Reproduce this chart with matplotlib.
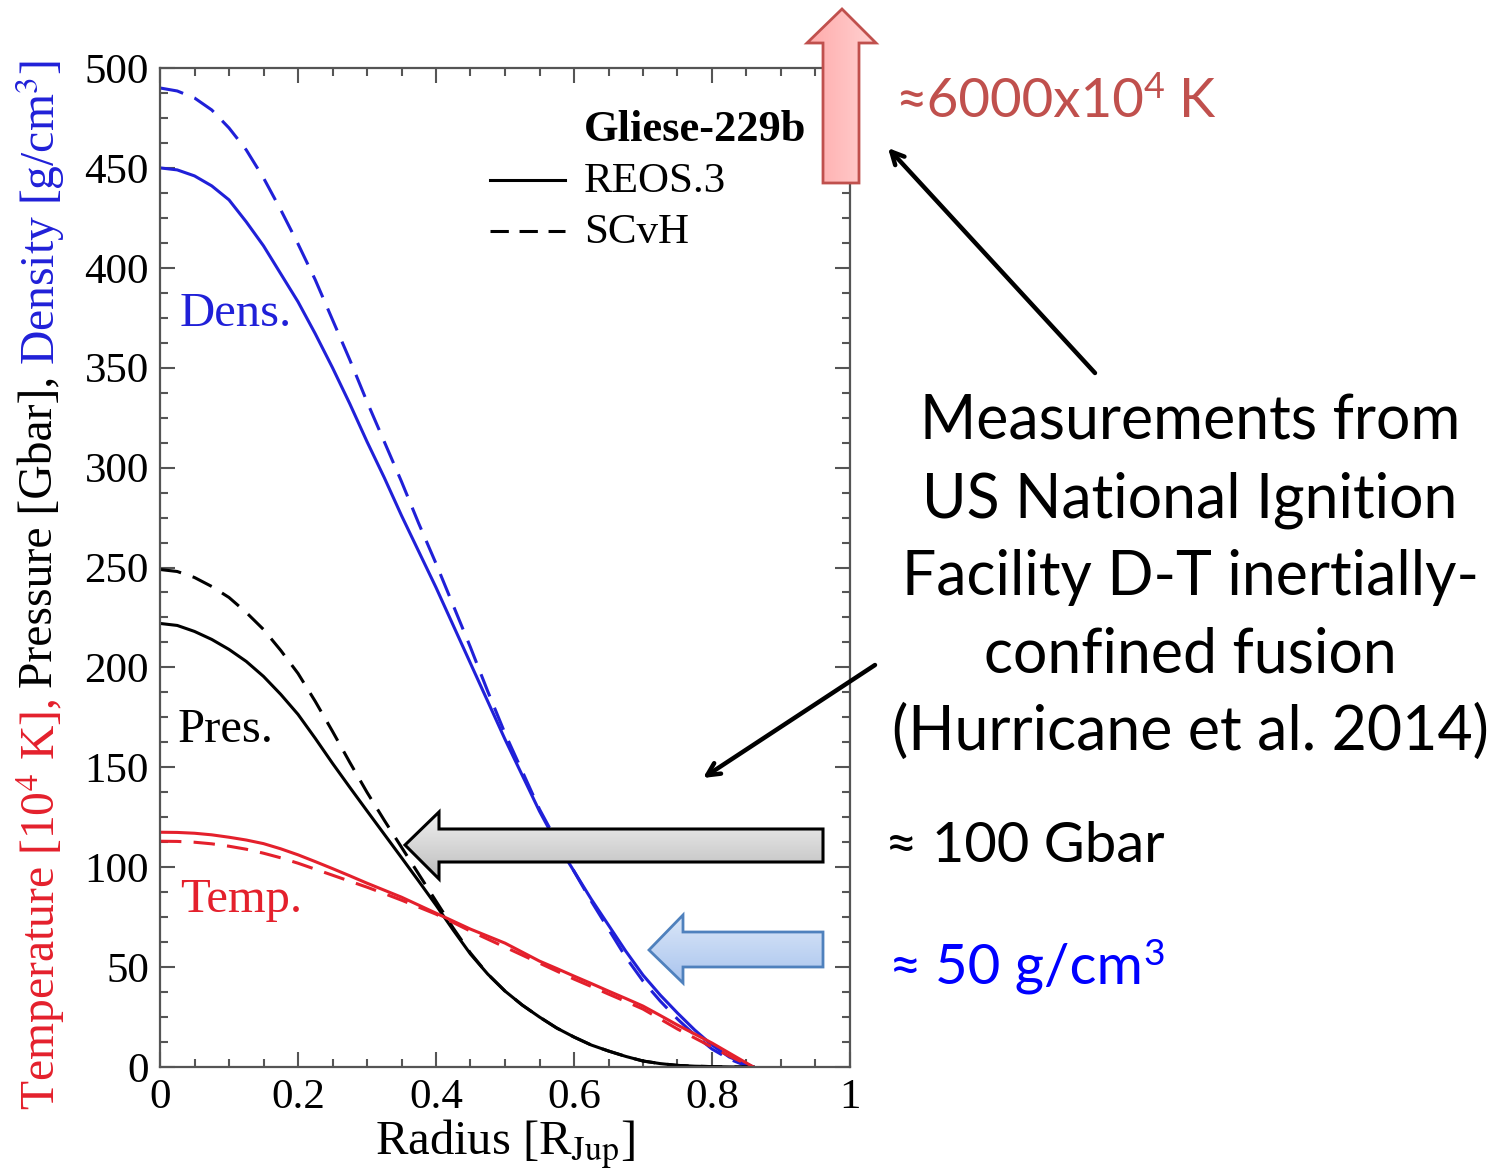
import matplotlib
matplotlib.use('Agg')
import matplotlib.pyplot as plt
import numpy as np
from matplotlib.patches import Polygon
from matplotlib.lines import Line2D
from matplotlib.colors import LinearSegmentedColormap
from matplotlib.ticker import MultipleLocator

# ---------------- data ----------------
radius = [0.0, 0.025, 0.05, 0.075, 0.10, 0.125, 0.15, 0.175, 0.20, 0.225,
          0.25, 0.275, 0.30, 0.325, 0.35, 0.375, 0.40, 0.425, 0.45, 0.475,
          0.50, 0.525, 0.55, 0.575, 0.60, 0.625, 0.65, 0.675, 0.70, 0.725,
          0.75, 0.775, 0.80, 0.825, 0.85, 0.86]
dens_reos = [450, 449, 446, 441, 434, 423, 411, 397, 383, 367,
             350, 332, 313, 295, 276, 258, 240, 221, 202, 183,
             164, 146, 128, 112, 98, 84, 71, 58, 46, 36,
             27, 18.5, 11, 5, 1.5, 0]
dens_scvh = [490, 488.5, 485, 479, 470, 459, 445, 429, 412, 394,
             374, 354, 333, 313, 293, 272, 252, 231, 210, 188,
             167, 148, 129, 113, 98, 83, 69, 55, 43, 33,
             24, 16, 9, 4, 0.5, 0]
pres_reos = [222, 221, 218, 214, 209, 203, 195.5, 186.5, 176.5, 164.5,
             152, 140, 128.2, 116.5, 104.8, 93, 81, 68.5, 56.5, 46.5,
             38, 31, 25, 19.5, 15, 11, 8, 5.3, 3, 1.7,
             0.8, 0.4, 0.2, 0.05, 0, 0]
pres_scvh = [249, 248, 245, 240.5, 235, 227.5, 219, 208.5, 197, 183,
             168, 152.5, 137.5, 123.5, 110, 96.5, 83, 69.5, 57, 46.5,
             38, 31, 25, 19.5, 15, 11, 8, 5.3, 3, 1.7,
             0.8, 0.4, 0.2, 0.05, 0, 0]
temp_reos = [117.5, 117.4, 117, 116.2, 115, 113.6, 111.8, 109.2, 106.2, 102.8,
             99.3, 95.7, 92, 88.5, 85, 81, 77, 73, 69, 65.5,
             62, 57.5, 53, 49.3, 45.5, 41.8, 38, 34.3, 30.5, 25.8,
             21, 16.5, 12, 7, 2, 0]
temp_scvh = [113, 112.9, 112.5, 111.7, 110.5, 109, 107, 104.7, 102, 99,
             96, 93, 90, 86.8, 83.5, 80, 76.5, 72.3, 68, 64,
             60, 56, 52, 48, 44, 40.3, 36.5, 32.8, 29, 24,
             19, 14.5, 10, 5.5, 1.5, 0]

xticks = [0, 0.2, 0.4, 0.6, 0.8, 1.0]
xticklabels = ['0', '0.2', '0.4', '0.6', '0.8', '1']
yticks = [0, 50, 100, 150, 200, 250, 300, 350, 400, 450, 500]
yticklabels = [str(v) for v in yticks]

# ---------------- style ----------------
plt.rcParams['font.family'] = ['Liberation Serif', 'DejaVu Serif']
plt.rcParams['mathtext.fontset'] = 'stix'

BLUE = '#2020d8'
RED = '#e4202c'
BLACK = '#000000'
SANS = ['Lato', 'DejaVu Sans']

W, H = 1503, 1169
fig = plt.figure(figsize=(W / 100, H / 100), dpi=100)
ax = fig.add_axes([160 / W, 1 - 1067 / H, 690 / W, 999 / H])

lw = 2.2
ax.plot(radius, dens_reos, color=BLUE, lw=lw)
ax.plot(radius, dens_scvh, color=BLUE, lw=lw, ls=(0, (7.8, 4.0)))
ax.plot(radius, pres_reos, color=BLACK, lw=lw)
ax.plot(radius, pres_scvh, color=BLACK, lw=lw, ls=(0, (7.0, 4.0)))
ax.plot(radius, temp_reos, color=RED, lw=lw)
ax.plot(radius, temp_scvh, color=RED, lw=lw, ls=(0, (7.0, 4.0)))

ax.set_xlim(0, 1)
ax.set_ylim(0, 500)
ax.set_xticks(xticks)
ax.set_xticklabels(xticklabels)
ax.set_yticks(yticks)
ax.set_yticklabels(yticklabels)
ax.xaxis.set_minor_locator(MultipleLocator(0.05))
ax.yaxis.set_minor_locator(MultipleLocator(12.5))
ax.tick_params(which='both', direction='in', top=True, right=True,
               color='#555555', width=1.5, labelsize=31)
ax.tick_params(which='major', length=11, pad=8)
ax.tick_params(which='minor', length=6)
for s in ax.spines.values():
    s.set_color('#555555')
    s.set_linewidth(1.6)

ax.set_xlabel(r'Radius [R$_{\rm Jup}$]', fontsize=35, labelpad=0)

# curve labels
ax.text(0.029, 377, 'Dens.', color=BLUE, fontsize=35, va='center', ha='left')
ax.text(0.026, 168.5, 'Pres.', color=BLACK, fontsize=35, va='center', ha='left')
ax.text(0.029, 83.5, 'Temp.', color=RED, fontsize=35, va='center', ha='left')

# legend (drawn manually, matching the reference layout)
ax.text(0.614, 0.938, 'Gliese-229b', transform=ax.transAxes, fontsize=32,
        fontweight='bold', va='center', ha='left')
ax.add_line(Line2D([0.478, 0.587], [0.888, 0.888], transform=ax.transAxes,
                   color='k', lw=2.2))
ax.add_line(Line2D([0.478, 0.587], [0.837, 0.837], transform=ax.transAxes,
                   color='k', lw=2.2, ls=(0, (6, 3.5))))
ax.text(0.614, 0.886, 'REOS.3', transform=ax.transAxes, fontsize=31,
        va='center', ha='left')
ax.text(0.614, 0.835, 'SCvH', transform=ax.transAxes, fontsize=31,
        va='center', ha='left')

# ---------------- overlay in pixel coordinates ----------------
ov = fig.add_axes([0, 0, 1, 1], zorder=5)
ov.set_autoscale_on(False)
ov.set_xlim(0, W)
ov.set_ylim(H, 0)
ov.axis('off')
ov.patch.set_alpha(0)

renderer = fig.canvas.get_renderer()


def ext(t):
    return t.get_window_extent(renderer)


# multi-coloured y label, scaled so that it spans the reference height
ylab_parts = [(r'Temperature [10$^4$ K],', RED),
              ('Pressure [Gbar],', BLACK),
              (r'Density [g/cm$^3$]', BLUE)]
gap = 11


def draw_ylabel(fs):
    ts = []
    ytop = 1110
    for s, c in ylab_parts:
        t = ov.text(40, ytop, s, rotation=90, color=c, fontsize=fs,
                    ha='center', va='bottom')
        ytop -= ext(t).height + gap
        ts.append(t)
    return ts, 1110 - (ytop + gap)


ts, total = draw_ylabel(31)
for t in ts:
    t.remove()
draw_ylabel(31 * (1048 - 2 * gap) / (total - 2 * gap))


def block_arrow(pts, c1, c2, edge, elw, horizontal=False):
    p = Polygon(pts, closed=True, facecolor='none', edgecolor=edge,
                lw=elw, zorder=4, joinstyle='miter')
    ov.add_patch(p)
    xs = [q[0] for q in pts]
    ys = [q[1] for q in pts]
    g = np.linspace(0, 1, 256)
    img = g[None, :] if horizontal else g[:, None]
    cmap = LinearSegmentedColormap.from_list('g', [c1, c2])
    im = ov.imshow(img, extent=(min(xs), max(xs), max(ys), min(ys)),
                   cmap=cmap, aspect='auto', zorder=3, interpolation='bilinear')
    im.set_clip_path(p)


# red up arrow
block_arrow([(842, 9), (876, 43), (859, 43), (859, 183), (823, 183),
             (823, 43), (807, 43)], '#ffaaaa', '#ffd2d2', '#c0504d', 2.0,
            horizontal=True)
# grey left arrow
block_arrow([(405, 845), (439, 812), (439, 829), (823, 829), (823, 862),
             (439, 862), (439, 879)], '#f0f0f0', '#bdbdbd', '#000000', 2.2)
# blue left arrow
block_arrow([(649, 950), (683, 915), (683, 932), (823, 932), (823, 967),
             (683, 967), (683, 983)], '#dbe7f8', '#a9c4ee', '#4f81bd', 2.0)

# black pointer arrows
aprops = dict(arrowstyle='->,head_length=0.9,head_width=0.45', lw=3.2,
              color='k', shrinkA=0, shrinkB=0)
ov.annotate('', xy=(888, 148), xytext=(1095, 373), arrowprops=aprops)
ov.annotate('', xy=(703, 778), xytext=(875, 665), arrowprops=aprops)


# texts with a real superscript, fitted to the reference width
def space_w(fs):
    a = ov.text(0, 0, 'a a', fontsize=fs, family=SANS)
    b = ov.text(0, 0, 'aa', fontsize=fs, family=SANS)
    w = ext(a).width - ext(b).width
    a.remove()
    b.remove()
    return w


def sup_text(x, ybase, parts, fs, color):
    # parts: list of (string, is_superscript, space_before)
    cur = x
    objs = []
    for s, sup, sp in parts:
        if sp:
            cur += space_w(fs)
        f = fs * 0.66 if sup else fs
        yy = ybase - fs * 1.389 * 0.34 if sup else ybase
        t = ov.text(cur, yy, s, fontsize=f, family=SANS, color=color,
                    ha='left', va='baseline')
        cur = ext(t).x1
        objs.append(t)
    return objs, cur - x


def fitted_sup(x, ybase, parts, target, color):
    objs, w = sup_text(x, ybase, parts, 38, color)
    for o in objs:
        o.remove()
    sup_text(x, ybase, parts, 38 * target / w, color)


fitted_sup(895, 117, [('≈6000x10', False, False), ('4', True, False),
                      ('K', False, True)], 320, '#c0504d')
fitted_sup(888, 984, [('≈', False, False), ('50 g/cm', False, True),
                      ('3', True, False)], 277, '#0000ff')

t = ov.text(885, 862, '≈ 100 Gbar', color='k', fontsize=38, family=SANS,
            ha='left', va='baseline')
t.set_fontsize(38 * 280 / ext(t).width)

lines = ['Measurements from', 'US National Ignition',
         'Facility D-T inertially-', 'confined fusion',
         '(Hurricane et al. 2014)']
targets = [546, 537, 549, 416, 592]
ys = [422, 500, 578, 655, 732]
ratios = []
for s, tw in zip(lines, targets):
    tmp = ov.text(0, 0, s, fontsize=38, family=SANS)
    ratios.append(tw / ext(tmp).width)
    tmp.remove()
fs = 38 * float(np.median(ratios))
for s, y in zip(lines, ys):
    ov.text(1190, y, s, fontsize=fs, family=SANS, ha='center', va='center')

fig.savefig('out.png', dpi=100)
